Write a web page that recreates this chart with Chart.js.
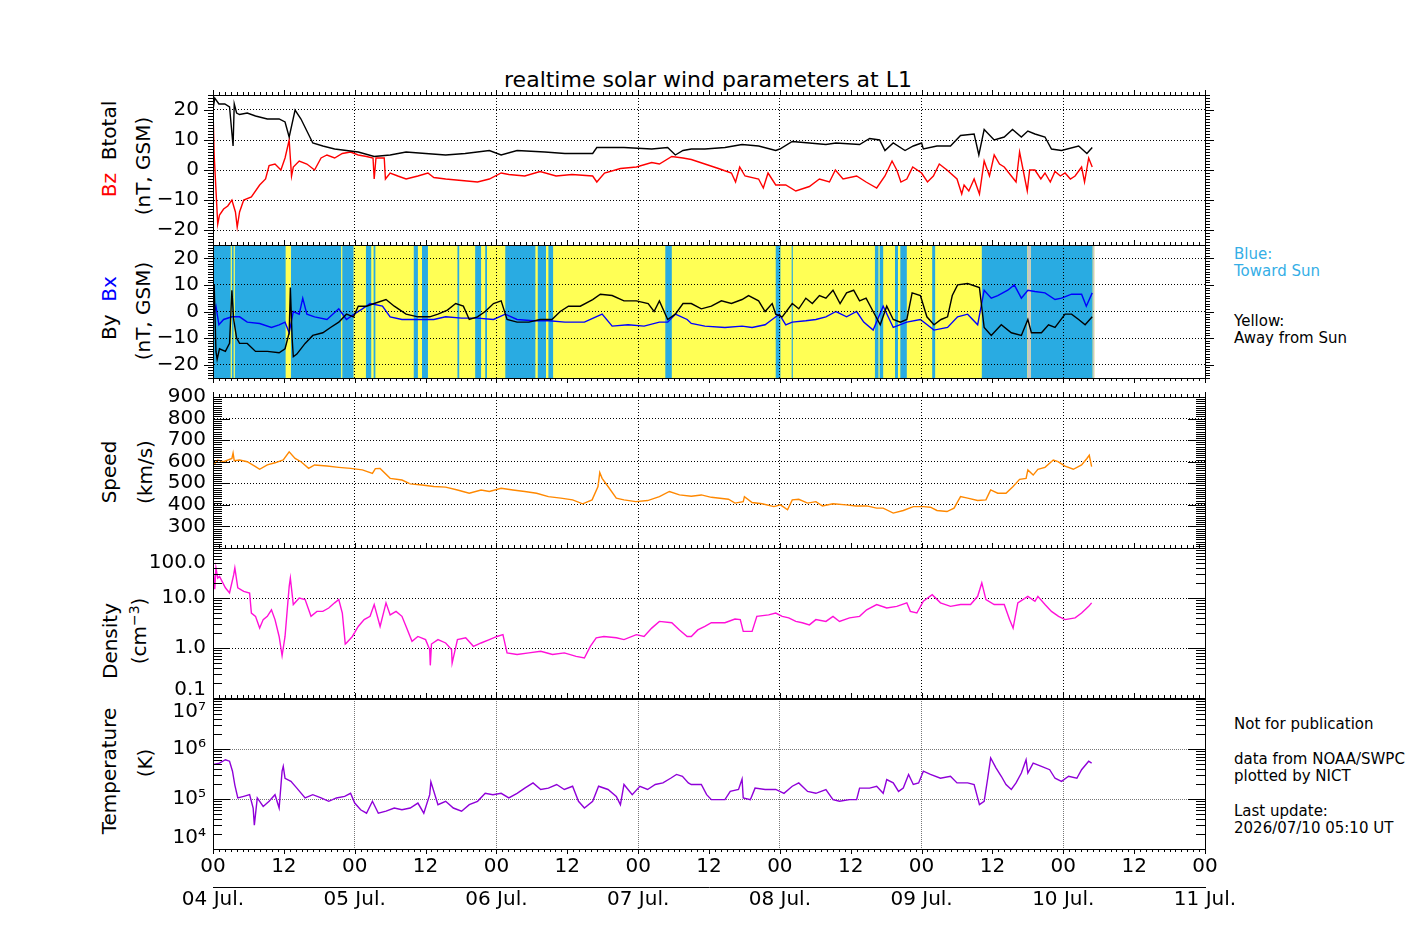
<!DOCTYPE html>
<html>
<head>
<meta charset="utf-8">
<script src="https://cdn.jsdelivr.net/npm/chart.js@4.4.1/dist/chart.umd.min.js"></script>
<style>
    html, body { margin: 0; padding: 0; background: #fff; }
    #wrap { position: relative; width: 1417px; height: 944px; overflow: hidden; font-family: "DejaVu Sans", sans-serif; color: #000; }
    #wrap canvas { position: absolute; left: 0; }
    .lbl { position: absolute; white-space: nowrap; font-size: 20px; line-height: 1; transform: translate(-50%, -50%) rotate(-90deg); }
    .side { position: absolute; left: 1234px; font-size: 15px; line-height: 17px; white-space: nowrap; }
    .ttl { position: absolute; left: 708px; top: 79px; font-size: 22px; white-space: nowrap; transform: translate(-50%, -50%); }
    sup { font-size: 0.7em; }
</style>
</head>
<body>
<div id="wrap">
    <div class="ttl">realtime solar wind parameters at L1</div>

    <div class="lbl" style="left:109px; top:149px;"><span style="color:#ff0000">Bz</span>&nbsp;&nbsp;Btotal</div>
    <div class="lbl" style="left:143px; top:166px;">(nT, GSM)</div>
    <div class="lbl" style="left:109px; top:308px;">By&nbsp;&nbsp;<span style="color:#0000ff">Bx</span></div>
    <div class="lbl" style="left:143px; top:311px;">(nT, GSM)</div>
    <div class="lbl" style="left:109px; top:472px;">Speed</div>
    <div class="lbl" style="left:145px; top:472px;">(km/s)</div>
    <div class="lbl" style="left:110px; top:641px;">Density</div>
    <div class="lbl" style="left:138px; top:631px;">(cm<sup>−3</sup>)</div>
    <div class="lbl" style="left:109px; top:771px;">Temperature</div>
    <div class="lbl" style="left:145px; top:763px;">(K)</div>

    <div class="side" style="top:246px; color:#35aee6;">Blue:<br>Toward Sun</div>
    <div class="side" style="top:313px;">Yellow:<br>Away from Sun</div>
    <div class="side" style="top:716px;">Not for publication</div>
    <div class="side" style="top:751px;">data from NOAA/SWPC<br>plotted by NICT</div>
    <div class="side" style="top:803px;">Last update:<br>2026/07/10 05:10 UT</div>
</div>

<script>
// Time is hours after 04 Jul. 00 UT

// x axis labels
const hourLabels = ['00', '12', '00', '12', '00', '12', '00', '12', '00', '12', '00', '12', '00', '12', '00'];
const dayLabels = ['04 Jul.', '05 Jul.', '06 Jul.', '07 Jul.', '08 Jul.', '09 Jul.', '10 Jul.', '11 Jul.'];

// y axis ticks and labels
const magTicks = [-20, -10, 0, 10, 20];
const magLabels = ['−20', '−10', '0', '10', '20'];
const speedTicks = [300, 400, 500, 600, 700, 800, 900];
const speedLabels = ['300', '400', '500', '600', '700', '800', '900'];
const densityTicks = [0.1, 1, 10, 100];
const densityLabels = ['0.1', '1.0', '10.0', '100.0'];
const tempTicks = [1e4, 1e5, 1e6, 1e7];
const tempLabels = ['10⁴', '10⁵', '10⁶', '10⁷'];

// Btotal [hour, nT]
const btotal = [[0, 20], [0.3, 24], [1, 22], [2, 22], [2.8, 21], [3.4, 8], [3.6, 22], [4, 19], [4.5, 18.5], [5.8, 19],
    [7.2, 18], [9.2, 17], [11.2, 17], [12.2, 16], [12.9, 11], [13.9, 20], [14.9, 17], [15.9, 13], [16.9, 9], [18.6, 8],
    [20.6, 7], [22.6, 6.5], [24.6, 6], [27.3, 4.5], [30, 5], [32.7, 6], [36, 5.5], [39.4, 5], [42.7, 5.5], [46.8, 6.5],
    [48.8, 5], [51.5, 6.5], [56.2, 6], [59.6, 5.5], [64.3, 5.5], [65, 7.5], [69.6, 7.5], [74.3, 7], [77, 7.5], [78.3, 5],
    [79.6, 6.5], [81, 7], [83.3, 7], [86.7, 7.5], [89.6, 8.5], [92.4, 8], [95.3, 6.5], [96, 7], [98.1, 9.5], [101, 9],
    [103.8, 8.5], [105.5, 9], [109.5, 8.5], [111.2, 10.5], [112.9, 10], [113.8, 6.5], [115.2, 9], [117.2, 6.5], [118.6, 8],
    [120, 9], [120.3, 7], [122.6, 8], [124.9, 8], [126.6, 11.5], [128.9, 12], [129.7, 5], [130.6, 13.5], [132.3, 10],
    [134, 11], [135.4, 13.5], [136.9, 11], [138, 13], [139.2, 12], [140.9, 11], [142, 7], [143.7, 6.5], [146.6, 8],
    [148, 5.5], [148.9, 7.5]];

// Bz [hour, nT]
const bz = [[0, 20], [0.2, 5], [0.8, -18], [1.1, -15], [1.8, -13], [2.5, -12], [3.2, -10], [3.8, -14], [4.1, -19], [4.5, -14],
    [5.2, -10], [6.5, -9], [7.9, -5], [8.9, -3], [9.5, 1.5], [10.5, 2], [11.5, 0], [12.2, 4], [12.9, 10], [13.3, -2],
    [13.6, 1], [14.6, 3], [15.9, 2], [17.2, 0], [18.3, 4], [19.3, 5], [20.6, 4], [21.9, 5.5], [23.3, 6], [24.6, 5],
    [26, 4.5], [27.1, 4], [27.3, -3], [27.6, 4], [29, 4], [29.2, -3], [30, -1], [31.3, -2], [32.7, -3], [34.7, -2],
    [36.4, -1], [37.4, -2.5], [39.4, -3], [42.1, -3.5], [44.8, -4], [46.8, -3], [48.8, -1], [50.1, -1.5], [52.8, -2],
    [55.4, -0.5], [58.1, -2], [60.8, -1.5], [64.3, -2], [65, -4], [66.3, -1], [69, 0.5], [71.7, 1], [74.3, 2.5], [75.6, 2],
    [77.7, 4.5], [79.6, 4], [81, 3.5], [83.3, 2], [85.6, 0.5], [87.8, -1], [88.5, -4], [89.2, 1], [90.1, -2], [92.4, -3],
    [93.2, -6], [94, -1], [95.3, -5], [97, -5], [98.7, -7], [101, -5.5], [102.7, -3], [104.4, -4], [105.4, 0], [106.7, -3],
    [109, -2], [110.6, -4], [112.4, -6], [113.8, -2], [115, 3], [115.8, 0], [116.5, -4], [117.5, -3], [118.5, 1], [120, -1],
    [121, -4], [122, -2], [123, 2], [124.3, 0], [126, -3], [126.8, -8], [127.2, -5], [128, -7], [128.9, -3], [129.8, -8],
    [130.6, 3], [131.5, -2], [132.3, 5], [133.2, 2], [134, 1], [135.2, -2], [136, -4], [136.6, 6], [137.4, -2], [137.9, -7],
    [138.3, 0], [139.2, 0], [140.2, -3], [140.9, -1], [141.8, -4], [142.6, -0.5], [143.5, -2], [144.3, -1], [145.2, -3],
    [146, -2], [147.1, 1], [147.6, -4], [148.3, 4], [148.9, 1]];

// By [hour, nT]
const by = [[0, 5], [0.2, 10], [0.5, -15], [0.7, -18], [1.1, -14], [2.1, -15], [2.8, -12], [3.2, 8], [3.5, -3], [4, -10],
    [4.5, -12], [5.8, -12], [7.2, -15], [9.2, -15], [11.2, -15.5], [12.2, -14], [12.9, -8], [13.1, 9], [13.4, -10],
    [13.6, -17], [14.2, -16], [15.6, -12], [16.9, -9], [18.6, -8], [19.9, -6], [21.3, -4], [22.6, -1], [23.8, -2],
    [24.6, 2], [26, 2], [27.3, 3], [29.3, 4.5], [30.7, 2], [32.7, -1], [34.7, -2], [36.7, -2], [38.1, -1], [39.7, 0.5],
    [41.1, 3], [42.4, 2], [43.4, -3], [44.8, -2], [46.1, 0], [47.5, 3], [48.8, 4], [49.8, -3], [51.5, -4], [53.5, -4],
    [55.4, -3], [57.4, -3], [58.8, 0], [60.2, 2], [62.2, 2], [64.3, 4.5], [65.6, 6.5], [67.6, 6], [69.6, 4], [71.7, 4],
    [73.7, 3], [74.7, 0], [75.6, 4], [77, -3], [78.3, -1], [79.6, 3], [81, 3], [82.7, 1], [84.4, 2], [86.1, 4], [87.8, 3],
    [89.6, 4.5], [90.7, 6], [92.4, 4], [93.5, 0], [94.7, 3], [95.3, -1], [96.4, -2], [98.1, 3], [99.2, 1], [100.4, 5],
    [101.5, 3], [102.7, 6], [103.8, 5], [105, 8], [106.2, 3], [107.3, 7], [108.5, 8], [109.5, 4], [110.6, 5], [111.8, 0],
    [113, -5], [114.1, 2], [115.2, -3], [116.4, -4], [117.5, -3], [118.4, 7], [119.8, 6], [120.9, -2], [122.1, -5],
    [123.3, -3], [124.4, -2], [125.2, 6], [126.1, 10], [127.8, 10.5], [129.8, 9], [130.6, -6], [131.8, -9], [133.5, -5],
    [135.2, -8], [136.9, -9], [138, -3], [138.6, -8], [140.3, -8], [141.5, -5], [142.6, -6], [144.3, -1], [145.4, -1],
    [146.6, -3], [147.7, -5], [148.9, -2]];

// Bx [hour, nT]
const bx = [[0, -2], [0.5, 2], [1, -5], [1.8, -3], [3.2, -2], [4.5, -2], [5.8, -4], [7.9, -4.5], [9.9, -6], [11.2, -5],
    [12.2, -4], [12.9, -8], [13.6, 0], [14.6, -1], [15.2, 5], [15.9, -1], [17.2, -2], [19.3, -3], [21.3, 1], [22.6, -3],
    [23.9, -1], [25.3, 1], [26.6, 3], [28.7, 2], [30, -2], [32, -3], [34.7, -3], [37.4, -3], [39.4, -2], [42.1, -2.5],
    [44.8, -2.5], [47.5, -3], [49.5, -1], [51.5, -3], [54.2, -3.5], [56.9, -3.5], [59.6, -4], [62.9, -4], [65.9, -1],
    [67.6, -5.5], [70.3, -5], [73, -5.5], [75.6, -4], [77, -4], [78.3, -1], [80.3, -3], [81, -4.5], [83.3, -5.5],
    [86.7, -6], [89.6, -5.5], [91.3, -6], [93.5, -5], [94.7, -3], [95.9, -1], [97, -5], [98.1, -4], [100.4, -3.5],
    [102.1, -3], [103.8, -2], [105.5, 0], [107.3, -2], [109, 0], [110.2, -4], [111.8, -7], [113.5, 2], [115.2, -6],
    [117.5, -4], [119.8, -3], [122.1, -7], [124.4, -6], [126.1, -2], [127.8, -1], [129.5, -5], [130.6, 8], [131.8, 5],
    [132.9, 6], [134.6, 8], [135.7, 10], [136.9, 5], [138, 8], [139.2, 7.5], [140.9, 7], [142.6, 4.5], [143.7, 5],
    [145.4, 6.5], [147.1, 6.5], [147.9, 2], [148.9, 7]];

// IMF sector periods [start hour, end hour]
const towardSpans = [[0, 3.0], [3.2, 3.5], [3.7, 12.3], [13.2, 21.7], [21.9, 23.8], [25.9, 26.8], [27.2, 27.5],
    [34.0, 34.7], [35.4, 36.4], [41.4, 41.7], [44.4, 45.4], [46.1, 46.4], [49.5, 54.6], [55.0, 56.4], [56.8, 57.6],
    [76.6, 77.7], [95.3, 96.1], [98.0, 98.2], [112.1, 112.7], [112.9, 113.5], [115.5, 116.0], [116.4, 117.5],
    [121.8, 122.3], [130.2, 137.9], [138.5, 149.0]];
const gapSpans = [[137.9, 138.5], [149.0, 149.3]];
const awaySpans = [[0, 149.3]];

// Speed [hour, km/s]
const speed = [[0.1, 585], [0.8, 608], [1.8, 600], [3.2, 615], [3.4, 640], [3.6, 605], [4.5, 608], [5.8, 600], [7.2, 577],
    [7.9, 565], [9.2, 585], [10.5, 595], [11.9, 608], [12.9, 646], [13.9, 615], [14.9, 600], [16.2, 569], [17.2, 585],
    [19.3, 580], [21.3, 574], [23.3, 569], [25.3, 562], [27, 546], [27.5, 568], [28.3, 569], [30, 523], [32, 515],
    [33.4, 497], [35.4, 492], [37.4, 485], [39.4, 482], [41.4, 469], [43.4, 454], [45.4, 469], [46.8, 462], [48.8, 477],
    [50.8, 469], [52.8, 462], [54.8, 454], [56.8, 438], [58.9, 431], [60.9, 423], [62.6, 405], [64.2, 423], [65.2, 485],
    [65.5, 550], [65.9, 523], [66.9, 485], [68.3, 431], [69.6, 423], [71.6, 415], [73.6, 420], [75.6, 438], [77.3, 462],
    [79, 446], [81, 440], [82.7, 446], [84.4, 435], [87.3, 426], [88.4, 408], [89.8, 415], [90, 438], [91.3, 411],
    [93, 405], [95, 392], [96.1, 400], [97.3, 377], [98.1, 423], [99.2, 426], [100.7, 408], [102.1, 415], [103.2, 395],
    [105, 405], [107.2, 400], [108.9, 395], [110.7, 395], [112.4, 385], [113.5, 385], [115.2, 362], [116.9, 374],
    [118.6, 392], [120.3, 392], [121.5, 389], [122.6, 374], [124.3, 369], [125.5, 385], [126.6, 438], [127.8, 431],
    [129.5, 420], [130.9, 423], [131.7, 469], [132.9, 454], [134.3, 454], [135.5, 485], [136.6, 518], [137.7, 523],
    [138, 562], [138.9, 538], [139.7, 565], [140.9, 574], [142.3, 608], [143.1, 600], [144.3, 580], [145.7, 565],
    [147.1, 585], [148, 615], [148.4, 630], [148.8, 577]];

// Density [hour, cm^-3]
const density = [[0.1, 31], [0.3, 15], [0.5, 40], [0.8, 25], [1.1, 27], [2.1, 16], [2.8, 12.6], [3.5, 29], [3.7, 40],
    [4.2, 16], [5.2, 13.6], [6.2, 12.6], [6.5, 5], [7.2, 4.3], [7.9, 2.5], [8.5, 3.7], [9.2, 4.3], [9.9, 5.8], [10.5, 3.7],
    [11.2, 1.7], [11.7, 0.7], [12.2, 1.7], [12.9, 17], [13.1, 25], [13.6, 7.4], [14.6, 10], [15.6, 9.3], [16.6, 4.3],
    [17.6, 5.4], [18.6, 5.4], [19.6, 6.3], [20.6, 8], [21.3, 9.3], [21.9, 5], [22.4, 1.2], [22.6, 1.26], [23.6, 1.7],
    [24.6, 2.7], [25.6, 3.7], [26.6, 4.3], [27.3, 7.4], [28.3, 2.7], [29.3, 8], [30, 4.6], [31, 5.4], [32, 4.3],
    [32.7, 2.7], [33.7, 1.36], [34.7, 1.7], [36, 1.47], [36.7, 0.93], [36.8, 0.45], [37, 1.2], [38.1, 1.47], [39.4, 1.26],
    [40.4, 0.93], [40.5, 0.5], [41.4, 1.47], [42.8, 1.6], [44.1, 1.08], [45.4, 1.26], [46.8, 1.47], [48.1, 1.7],
    [49.1, 1.85], [49.8, 0.8], [51.5, 0.74], [53.5, 0.8], [55.5, 0.86], [57.5, 0.74], [59.5, 0.8], [61.5, 0.68],
    [62.9, 0.63], [63.9, 1.08], [64.9, 1.6], [66.2, 1.7], [68.3, 1.6], [69.6, 1.47], [71.7, 1.85], [73, 1.7], [74.3, 2.5],
    [75.6, 3.4], [77.7, 3.2], [79, 2.3], [80.3, 1.7], [81, 1.7], [82.1, 2.3], [83.3, 2.7], [84.4, 3.2], [86.7, 3.2],
    [88.4, 3.8], [89.3, 3.7], [89.8, 2.15], [91.3, 2.15], [92.1, 4.3], [94.1, 4.6], [95.3, 5], [96.4, 4.3], [97.5, 4],
    [98.7, 3.4], [99.8, 3.2], [101, 2.9], [102.1, 3.7], [103.8, 3.4], [105, 4.3], [106.1, 3.4], [107.8, 4], [109.5, 4.3],
    [110.7, 5.8], [112.4, 7.4], [114.1, 6.3], [115.8, 6.8], [117.5, 8], [118.1, 5.4], [119.2, 5], [120.3, 8.6],
    [121.8, 11.6], [123.2, 8], [124.9, 6.8], [126.6, 7.4], [128.3, 7.4], [129.5, 10.8], [130.2, 20], [130.9, 9.3],
    [132.3, 7.4], [134, 7.4], [134.9, 3.7], [135.5, 2.5], [136.3, 8], [138, 10.8], [139.2, 8.6], [139.7, 10.8],
    [140.9, 7.4], [142, 5.4], [143.2, 4.3], [144.3, 3.7], [146, 4], [147.1, 5], [148.3, 6.8], [148.8, 8]];

// Temperature [hour, K]
const temperature = [[0.1, 490e3], [1.1, 520e3], [2.1, 610e3], [2.8, 570e3], [3.3, 360e3], [3.7, 190e3], [4.2, 105e3],
    [5.2, 113e3], [6.2, 122e3], [6.8, 66e3], [7, 30e3], [7.5, 105e3], [8.5, 71e3], [9.5, 90e3], [10.5, 122e3],
    [11.2, 66e3], [11.7, 360e3], [11.9, 450e3], [12.2, 260e3], [13.2, 225e3], [14.2, 165e3], [15.6, 105e3],
    [16.9, 122e3], [18.3, 105e3], [19.6, 90e3], [20.9, 105e3], [22.3, 113e3], [23.3, 130e3], [24, 83e3], [25, 61e3],
    [26, 52e3], [27, 90e3], [28, 52e3], [29.3, 57e3], [30.7, 66e3], [32, 61e3], [33.4, 66e3], [34.7, 83e3], [35.7, 52e3],
    [36.7, 122e3], [36.9, 220e3], [38.1, 77e3], [39.4, 90e3], [40.7, 66e3], [42.1, 57e3], [43.4, 77e3], [44.8, 90e3],
    [46.1, 130e3], [47.4, 122e3], [48.8, 130e3], [50.1, 105e3], [51.5, 130e3], [52.8, 165e3], [54.2, 210e3],
    [55.5, 155e3], [56.8, 165e3], [58.2, 195e3], [59.5, 155e3], [60.9, 180e3], [61.9, 90e3], [62.9, 66e3], [64.3, 90e3],
    [65.3, 180e3], [66.9, 155e3], [68.3, 113e3], [69, 77e3], [69.6, 195e3], [71, 122e3], [72.3, 180e3], [73.6, 155e3],
    [74.9, 195e3], [76.2, 210e3], [77.5, 260e3], [78.5, 310e3], [79.5, 285e3], [80.5, 210e3], [81, 195e3],
    [82.7, 195e3], [83.6, 122e3], [84.4, 97e3], [86.7, 97e3], [87.6, 142e3], [89, 155e3], [89.6, 250e3], [89.8, 105e3],
    [91, 97e3], [91.8, 165e3], [93.5, 155e3], [95.3, 155e3], [96.7, 130e3], [98.1, 180e3], [99.2, 210e3],
    [100.7, 142e3], [102.1, 130e3], [103.8, 155e3], [105, 97e3], [106.1, 90e3], [107.8, 97e3], [109, 97e3],
    [109.5, 165e3], [111.2, 165e3], [112.4, 180e3], [113.5, 130e3], [114.1, 245e3], [115.2, 210e3], [116.1, 142e3],
    [116.9, 165e3], [117.8, 310e3], [118.6, 195e3], [119.5, 210e3], [120.3, 360e3], [121.5, 310e3], [123.2, 260e3],
    [124.9, 285e3], [126, 210e3], [127.8, 210e3], [128.9, 195e3], [129.8, 77e3], [130.6, 90e3], [131.2, 260e3],
    [131.7, 660e3], [132.6, 420e3], [133.5, 285e3], [134.3, 195e3], [135.2, 155e3], [136, 210e3], [136.9, 330e3],
    [137.7, 610e3], [138, 330e3], [138.9, 520e3], [140.3, 450e3], [141.7, 385e3], [142.6, 260e3], [143.7, 225e3],
    [144.9, 285e3], [146.3, 260e3], [147.1, 385e3], [148.3, 570e3], [148.8, 520e3]];

// ---- layout helpers ----
const PAGE_W = 1417, AREA_L = 213, AREA_R = 1205;
const FAMILY = '"DejaVu Sans", sans-serif';
Chart.defaults.font.family = FAMILY;
Chart.defaults.font.size = 20;
Chart.defaults.color = '#000';

// minor tick positions (decorative)
function stepRange(a, b, s) { const r = []; for (let v = a; v <= b + 1e-9; v += s) r.push(+v.toFixed(6)); return r; }
function logMinor(lo, hi) { const r = []; for (let d = lo; d < hi; d *= 10) for (let m = 1; m <= 10; m++) r.push(d * m); return r; }

// label overflow must not push the frame inwards
function fixSize(s, w, h) {
    if (w !== null) s.width = w;
    if (h !== null) s.height = h;
    s.paddingTop = s.paddingBottom = s.paddingLeft = s.paddingRight = 0;
}

// draws the small tick marks round the frame
const frameTicks = {
    id: 'frameTicks',
    afterDraw(chart, args, o) {
        const { ctx, chartArea: a } = chart;
        const xs = chart.scales.x, ys = chart.scales.y;
        ctx.save();
        ctx.strokeStyle = '#000';
        ctx.lineWidth = 1;
        ctx.beginPath();
        for (let h = 0; h <= 168; h++) {
            const px = Math.round(xs.getPixelForValue(h)) + 0.5;
            const len = h % 12 === 0 ? 5 : 3;
            if (o.top) { ctx.moveTo(px, a.top); ctx.lineTo(px, a.top + o.top * len); }
            if (o.bottom) { ctx.moveTo(px, a.bottom); ctx.lineTo(px, a.bottom + o.bottom * len); }
        }
        const dir = o.inward ? 1 : -1;
        [[o.minor, o.minorLen], [o.major, o.majorLen]].forEach(([vals, len]) => {
            vals.forEach(v => {
                const py = Math.round(ys.getPixelForValue(v)) + 0.5;
                ctx.moveTo(a.left, py); ctx.lineTo(a.left + dir * len, py);
                ctx.moveTo(a.right, py); ctx.lineTo(a.right - dir * len, py);
            });
        });
        ctx.stroke();
        ctx.restore();
    }
};

const pts = pairs => pairs.map(p => ({ x: p[0], y: p[1] }));
const spanPts = (spans, lo, hi) => spans.flatMap(s => [{ x: s[0], y: hi }, { x: s[1], y: lo }]);

function line(label, pairs, color, order) {
    return { label, data: pts(pairs), borderColor: color, borderWidth: 1.4, pointRadius: 0, tension: 0, fill: false, order };
}
function sector(label, spans, color, order) {
    return {
        label, data: spanPts(spans, -25, 25), stepped: true, borderWidth: 0, borderColor: 'rgba(0,0,0,0)',
        pointRadius: 0, fill: 'start', backgroundColor: color, order
    };
}

const wrap = document.getElementById('wrap');

function panel(p) {
    const padT = 14, padB = p.last ? 8 : 14;
    const xh = p.last ? 38 : 0, dh = p.last ? 36 : 0;
    const hgt = padT + p.h + xh + dh + padB;
    const cv = document.createElement('canvas');
    cv.width = PAGE_W;
    cv.height = hgt;
    cv.style.top = (p.top - padT) + 'px';
    cv.style.width = PAGE_W + 'px';
    cv.style.height = hgt + 'px';
    wrap.appendChild(cv);

    const yBase = { type: p.type, min: p.min, max: p.max, bounds: 'data' };
    const scales = {
        x: {
            type: 'linear', min: 0, max: 168, position: 'bottom', bounds: 'data',
            afterBuildTicks: s => { s.ticks = hourLabels.map((l, i) => ({ value: i * 12 })); },
            afterFit: s => fixSize(s, null, xh),
            ticks: { display: !!p.last, padding: 6, maxRotation: 0, autoSkip: false, callback: (v, i) => hourLabels[i] },
            grid: {
                drawTicks: false, lineWidth: 1, z: p.gridZ,
                color: c => (c.tick && c.tick.value % 24 === 0) ? p.gridColor : 'rgba(0,0,0,0)'
            },
            border: { color: '#000', width: 1, dash: p.dash, z: 2 }
        },
        xt: {
            type: 'linear', min: 0, max: 168, position: 'top',
            afterFit: s => fixSize(s, null, 0),
            ticks: { display: false }, grid: { display: false },
            border: { color: '#000', width: 1, z: 2 }
        },
        y: Object.assign({}, yBase, {
            position: 'left',
            afterBuildTicks: s => { s.ticks = p.ticks.map(v => ({ value: v })); },
            afterFit: s => fixSize(s, AREA_L, null),
            ticks: {
                padding: p.labelPad, autoSkip: false,
                callback: (v, i) => p.labelFor(i),
                font: c => ({ family: FAMILY, size: 20, lineHeight: p.lineHeightFor ? p.lineHeightFor(c.index) : 1.2 })
            },
            grid: {
                drawTicks: false, lineWidth: 1, z: p.gridZ,
                color: c => (c.tick && (c.tick.value === p.min || c.tick.value === p.max)) ? 'rgba(0,0,0,0)' : p.gridColor
            },
            border: { color: '#000', width: 1, dash: p.dash, z: 2 }
        }),
        yr: Object.assign({}, yBase, {
            position: 'right',
            afterFit: s => fixSize(s, PAGE_W - AREA_R, null),
            ticks: { display: false }, grid: { display: false },
            border: { color: '#000', width: 1, z: 2 }
        })
    };
    if (p.last) {
        scales.xd = {
            type: 'linear', min: 0, max: 168, position: 'bottom', bounds: 'data',
            afterBuildTicks: s => { s.ticks = dayLabels.map((l, i) => ({ value: i * 24 })); },
            afterFit: s => fixSize(s, null, dh),
            ticks: { padding: 1, maxRotation: 0, autoSkip: false, callback: (v, i) => dayLabels[i] },
            grid: { display: false, drawTicks: false },
            border: { color: '#000', width: 1, z: 2 }
        };
    }

    new Chart(cv.getContext('2d'), {
        type: 'line',
        data: { datasets: p.datasets.map(d => Object.assign({ xAxisID: 'x', yAxisID: 'y' }, d)) },
        options: {
            responsive: false,
            maintainAspectRatio: false,
            animation: false,
            events: [],
            layout: { padding: { top: padT, bottom: padB, left: 0, right: 0 } },
            plugins: { legend: { display: false }, tooltip: { enabled: false }, frameTicks: p.marks },
            scales
        },
        plugins: [frameTicks]
    });
}

// Btotal / Bz
panel({
    top: 95, h: 150, type: 'linear', min: -25, max: 25, ticks: magTicks, labelFor: i => magLabels[i],
    labelPad: 14, gridColor: '#000', dash: [1, 2], gridZ: -1,
    datasets: [line('Btotal', btotal, '#000000', 0), line('Bz', bz, '#ff0000', 1)],
    marks: { top: -1, bottom: 0, inward: false, minor: stepRange(-25, 25, 1), minorLen: 5, major: stepRange(-20, 20, 10), majorLen: 9 }
});

// By / Bx with IMF sector shading
panel({
    top: 245, h: 133, type: 'linear', min: -25, max: 25, ticks: magTicks, labelFor: i => magLabels[i],
    labelPad: 14, gridColor: '#000', dash: [1, 2], gridZ: 1,
    datasets: [
        line('By', by, '#000000', 0),
        line('Bx', bx, '#0000ff', 1),
        sector('data gap', gapSpans, '#c8c8c8', 2),
        sector('Toward Sun', towardSpans, '#29abe2', 3),
        sector('Away from Sun', awaySpans, '#ffff55', 4)
    ],
    marks: { top: -1, bottom: 1, inward: false, minor: stepRange(-25, 25, 1), minorLen: 5, major: stepRange(-20, 20, 10), majorLen: 9 }
});

// Speed
panel({
    top: 397, h: 151, type: 'linear', min: 200, max: 900, ticks: speedTicks, labelFor: i => speedLabels[i],
    labelPad: 7, gridColor: '#000', dash: [1, 2], gridZ: -1,
    datasets: [line('Speed', speed, '#ff8800', 0)],
    marks: { top: -1, bottom: -1, inward: true, minor: stepRange(200, 900, 10), minorLen: 9, major: stepRange(200, 900, 100), majorLen: 17 }
});

// Density
panel({
    top: 548, h: 150, type: 'logarithmic', min: 0.1, max: 100, ticks: densityTicks,
    labelFor: i => i === 3 ? ['', densityLabels[i]] : (i === 0 ? [densityLabels[i], ''] : densityLabels[i]),
    lineHeightFor: i => i === 3 ? 1.5 : (i === 0 ? 0.8 : 1.2),
    labelPad: 7, gridColor: '#000', dash: [1, 2], gridZ: -1,
    datasets: [line('Density', density, '#ff10d8', 0)],
    marks: { top: 0, bottom: -1, inward: true, minor: logMinor(0.1, 100), minorLen: 9, major: densityTicks, majorLen: 17 }
});

// Temperature
panel({
    top: 699, h: 150, type: 'logarithmic', min: 1e4, max: 1e7, ticks: tempTicks, last: true,
    labelFor: i => i === 3 ? ['', tempLabels[i]] : (i === 0 ? [tempLabels[i], ''] : tempLabels[i]),
    lineHeightFor: i => i === 3 ? 1.27 : (i === 0 ? 1.1 : 1.2),
    labelPad: 7, gridColor: '#777777', dash: [1, 1], gridZ: -1,
    datasets: [line('Temperature', temperature, '#8f00d8', 0)],
    marks: { top: 0, bottom: 1, inward: true, minor: logMinor(1e4, 1e7), minorLen: 9, major: tempTicks, majorLen: 17 }
});
</script>
</body>
</html>
